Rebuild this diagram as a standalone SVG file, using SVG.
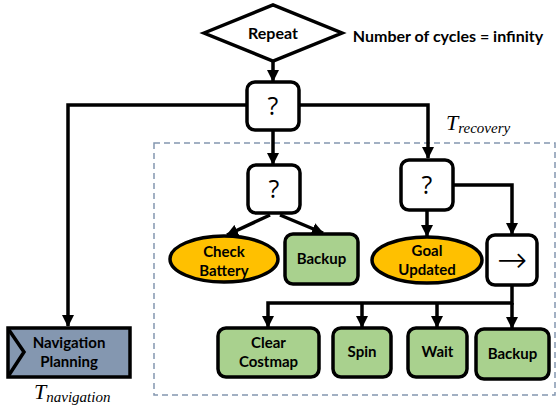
<svg xmlns="http://www.w3.org/2000/svg" width="557" height="406" viewBox="0 0 557 406">
<defs>
<style>
.n{stroke:#000;stroke-width:3.5;}
.w{fill:#fff;}
.g{fill:#A9D18E;}
.y{fill:#FFC000;}
.b{fill:#8497B0;}
.t{font-family:Lato,"Liberation Sans",sans-serif;font-weight:bold;font-size:15px;text-anchor:middle;fill:#000;}
.big{font-size:16px;}
.q{font-family:"Open Sans","Liberation Sans",sans-serif;font-size:25px;text-anchor:middle;fill:#000;}
.ar{font-family:"DejaVu Sans",sans-serif;font-weight:200;font-size:36px;text-anchor:middle;fill:#000;}
.c{fill:none;stroke:#000;stroke-width:3.5;}
.m{font-family:"Liberation Serif",serif;font-style:italic;fill:#000;}
</style>
<marker id="ah" markerUnits="userSpaceOnUse" markerWidth="12" markerHeight="12" viewBox="0 0 12 12" refX="11" refY="6" orient="auto">
<path d="M0,0 L12,6 L0,12 Z" fill="#000"/>
</marker>
</defs>
<rect x="154" y="143" width="401" height="252" fill="none" stroke="#8497B0" stroke-width="1.5" stroke-dasharray="6,4"/>
<g id="connectors">
<path class="c" d="M273,61 V81" marker-end="url(#ah)"/>
<path class="c" d="M247,105 H68 V326" marker-end="url(#ah)"/>
<path class="c" d="M299,105 H428 V158" marker-end="url(#ah)"/>
<path class="c" d="M273,130 V164" marker-end="url(#ah)"/>
<path class="c" d="M270,215 L227,235" marker-end="url(#ah)"/>
<path class="c" d="M280,215 L323,233" marker-end="url(#ah)"/>
<path class="c" d="M427,210 V236" marker-end="url(#ah)"/>
<path class="c" d="M453,185 H512 V234" marker-end="url(#ah)"/>
<path class="c" d="M512,285 V303 H268 V327" marker-end="url(#ah)"/>
<path class="c" d="M362,303 V327" marker-end="url(#ah)"/>
<path class="c" d="M437,303 V327" marker-end="url(#ah)"/>
<path class="c" d="M512,303 V328" marker-end="url(#ah)"/>
</g>
<g id="repeat">
<polygon class="n w" points="204,33 273,5 342,33 273,61"/>
<text class="t big" x="273" y="39">Repeat</text>
</g>
<text class="t big" x="448" y="42">Number of cycles = infinity</text>
<g id="fallback1">
<rect class="n w" x="247" y="82" width="52" height="48" rx="8"/>
<text class="q" x="273" y="115">?</text>
</g>
<g id="fallback2">
<rect class="n w" x="248" y="165" width="52" height="48" rx="8"/>
<text class="q" x="274" y="198">?</text>
</g>
<g id="fallback3">
<rect class="n w" x="401" y="160" width="52" height="50" rx="8"/>
<text class="q" x="427" y="194">?</text>
</g>
<g id="checkBattery">
<ellipse class="n y" cx="224" cy="259" rx="54" ry="23"/>
<text class="t" x="224" y="257">Check</text>
<text class="t" x="224" y="276">Battery</text>
</g>
<g id="backup1">
<rect class="n g" x="285" y="234" width="73" height="50" rx="8"/>
<text class="t" x="321.5" y="264">Backup</text>
</g>
<g id="goalUpdated">
<ellipse class="n y" cx="427" cy="260" rx="55" ry="23"/>
<text class="t" x="427" y="256">Goal</text>
<text class="t" x="427" y="275">Updated</text>
</g>
<g id="sequence">
<rect class="n w" x="487" y="235" width="50" height="50" rx="8"/>
<text class="ar" x="512" y="272">→</text>
</g>
<g id="clearCostmap">
<rect class="n g" x="218" y="328" width="101" height="49" rx="8"/>
<text class="t" x="268.5" y="348">Clear</text>
<text class="t" x="268.5" y="367">Costmap</text>
</g>
<g id="spin">
<rect class="n g" x="333" y="328" width="58" height="49" rx="8"/>
<text class="t" x="362" y="357">Spin</text>
</g>
<g id="wait">
<rect class="n g" x="408" y="328" width="59" height="49" rx="8"/>
<text class="t" x="437.5" y="357">Wait</text>
</g>
<g id="backup2">
<rect class="n g" x="476" y="329" width="73" height="50" rx="8"/>
<text class="t" x="512.5" y="359">Backup</text>
</g>
<g id="navigation">
<rect class="n b" x="8" y="328" width="122" height="49"/>
<path d="M9,330 L24,352 L9,375" fill="none" stroke="#000" stroke-width="3.5"/>
<text class="t" x="69" y="348">Navigation</text>
<text class="t" x="69" y="367">Planning</text>
</g>
<text class="m" x="34" y="399" font-size="22">T<tspan font-size="15" dy="3">navigation</tspan></text>
<text class="m" x="446" y="130" font-size="22">T<tspan font-size="15" dy="3">recovery</tspan></text>
</svg>
